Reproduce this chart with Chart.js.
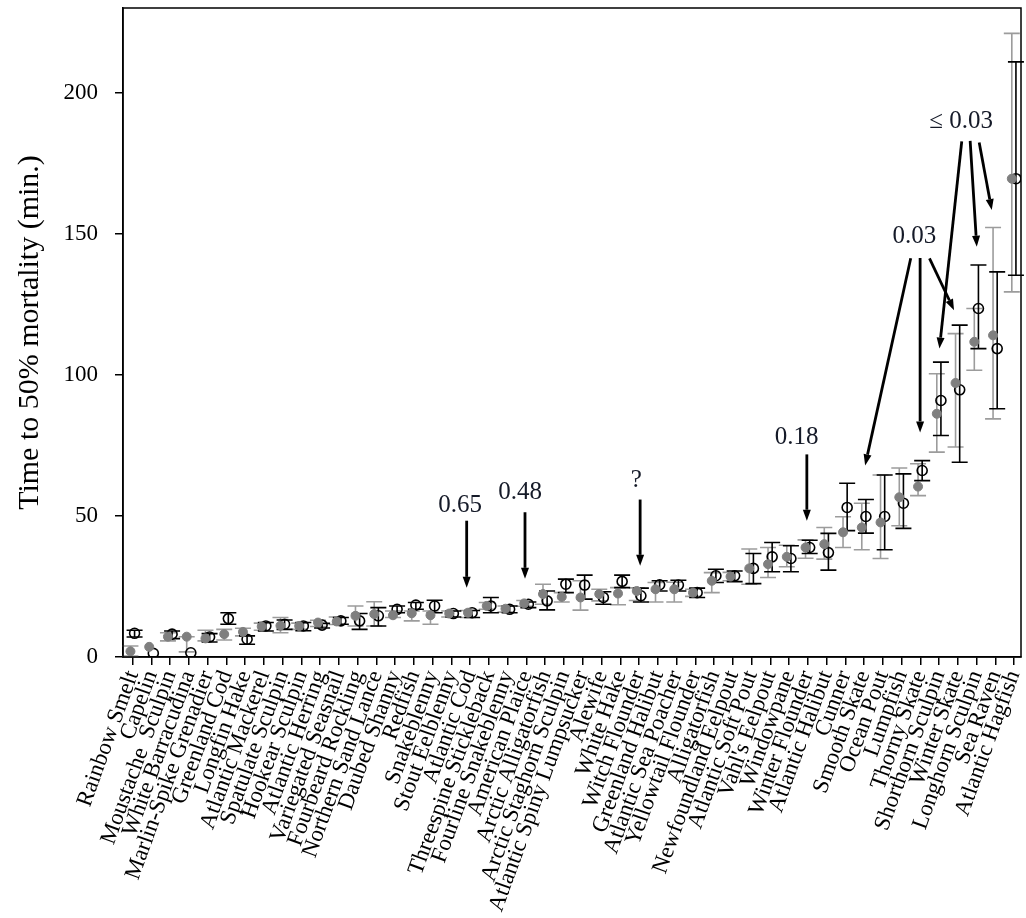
<!DOCTYPE html>
<html>
<head>
<meta charset="utf-8">
<script src="https://cdn.jsdelivr.net/npm/chart.js@4.4.1/dist/chart.umd.min.js"></script>
<style>
  html, body { margin: 0; padding: 0; background: #fff; }
  #wrap { width: 1026px; height: 918px; position: relative; }
</style>
</head>
<body>
<div id="wrap"><canvas id="chart"></canvas></div>
<script>
const species = [
  "Rainbow Smelt", "Capelin", "Moustache  Sculpin", "White Barracudina", "Marlin-Spike Grenadier",
  "Greenland Cod", "Longfin Hake", "Atlantic Mackerel", "Spatulate Sculpin", "Hookear Sculpin",
  "Atlantic Herring", "Variegated Seasnail", "Fourbeard Rockling", "Northern Sand Lance", "Daubed Shanny",
  "Redfish", "Snakeblenny", "Stout Eelblenny", "Atlantic Cod", "Threespine Stickleback",
  "Fourline Snakeblenny", "American Plaice", "Arctic Alligatorfish", "Arctic Staghorn Sculpin", "Atlantic Spiny Lumpsucker",
  "Alewife", "White Hake", "Witch Flounder", "Greenland Halibut", "Atlantic Sea Poacher",
  "Yellowtail Flounder", "Alligatorfish", "Newfoundland Eelpout", "Atlantic Soft Pout", "Vahl's Eelpout",
  "Windowpane", "Winter Flounder", "Atlantic Halibut", "Cunner", "Smooth Skate",
  "Ocean Pout", "Lumpfish", "Thorny Skate", "Shorthorn Sculpin", "Winter Skate",
  "Longhorn Sculpin", "Sea Raven", "Atlantic Hagfish"
];

// filled grey points and their grey error bars
const filledMid = [2.0, 3.6, 7.2, 7.2, 6.6, 8.1, 8.9, 10.8, 11.1, 11.0,
  12.2, 12.6, 14.6, 15.2, 14.8, 15.5, 14.8, 15.4, 15.7, 18.1,
  17.1, 19.0, 22.3, 21.3, 21.1, 22.3, 22.5, 23.4, 24.0, 24.0,
  22.8, 27.0, 28.5, 31.4, 32.9, 35.5, 38.8, 40.0, 44.2, 45.9,
  47.7, 56.6, 60.4, 86.2, 97.1, 111.7, 114.0, 169.5];
const filledLow = [0.3, null, 5.7, 1.8, 5.7, 6.0, 7.5, 9.5, 8.6, 9.8,
  10.8, 11.5, 11.0, 11.0, 14.0, 12.8, 11.6, 14.2, 14.0, 16.9,
  15.9, 18.0, 18.7, 19.5, 16.6, 19.9, 18.5, 20.0, 19.5, 19.5,
  21.5, 22.8, 27.0, 25.8, 28.2, 32.0, 35.0, 34.7, 38.8, 38.0,
  34.9, 46.5, 57.2, 72.6, 74.4, 101.6, 84.4, 129.4];
const filledHigh = [3.9, null, 8.6, 7.2, 9.5, 9.8, 10.2, 12.0, 14.0, 12.0,
  13.0, 14.2, 18.1, 19.6, 16.3, 16.3, 16.3, 16.3, 16.5, 19.3,
  18.1, 20.0, 25.8, 22.8, 27.0, 24.0, 24.6, 24.5, 26.4, 26.5,
  24.0, 29.9, 30.0, 38.3, 38.8, 39.6, 41.5, 45.9, 49.7, 54.5,
  64.5, 67.0, 68.5, 100.4, 114.6, 123.5, 152.2, 221.0];

// open circles and their black error bars
const openMid = [8.4, 1.3, 8.1, 1.5, 7.1, 13.6, 6.3, 11.0, 11.6, 11.0,
  11.3, 12.8, 12.8, 14.6, 16.9, 18.4, 18.1, 15.4, 15.7, 18.1,
  16.9, 18.7, 19.9, 25.8, 25.5, 21.1, 26.8, 21.7, 25.6, 25.5,
  22.8, 28.8, 28.8, 31.4, 35.5, 34.9, 38.8, 37.0, 53.0, 49.8,
  49.8, 54.5, 66.1, 90.9, 94.7, 123.5, 109.3, 169.5];
const openLow = [7.1, null, 6.5, null, 5.3, 11.6, 4.5, 9.2, 9.8, 9.3,
  10.3, 11.6, 9.8, 11.0, 15.7, 16.9, 15.7, 14.2, 14.0, 15.7,
  15.7, 17.5, 16.7, 22.8, 20.5, 18.7, 24.6, 19.5, 23.4, 23.4,
  21.1, 26.4, 26.7, 26.0, 30.2, 30.2, 36.7, 30.8, 44.8, 43.9,
  38.0, 45.6, 62.5, 78.5, 69.0, 109.3, 88.0, 135.3];
const openHigh = [9.5, null, 9.2, null, 8.3, 15.7, 7.5, 12.2, 13.1, 12.2,
  11.9, 14.0, 15.4, 17.5, 18.1, 19.3, 20.1, 16.3, 16.5, 21.1,
  18.1, 19.5, 23.4, 27.6, 29.0, 23.1, 29.0, 24.4, 27.0, 27.2,
  24.4, 31.1, 30.5, 36.7, 40.6, 39.4, 41.4, 43.8, 61.6, 55.8,
  64.5, 64.9, 69.6, 104.5, 117.6, 138.9, 136.5, 210.9];

const yTicks = [0, 50, 100, 150, 200];

// p-value notes, in data units (x = species position, y = minutes)
const noteText = ["0.65", "0.48", "?", "0.18", "0.03", "\u2264 0.03"];
const noteX = [18.46, 21.66, 27.85, 36.41, 42.68, 45.18];
const noteY = [53.6, 58.4, 62.5, 77.7, 149.0, 189.7];
const arrowX0 = [18.81, 21.92, 28.06, 36.95, 42.49, 42.99, 43.49, 45.21, 45.66, 46.14];
const arrowY0 = [48.3, 51.3, 55.8, 71.8, 141.3, 141.4, 141.3, 182.7, 182.9, 182.3];
const arrowX1 = [18.81, 21.92, 28.06, 36.95, 40.06, 42.99, 44.80, 44.02, 46.01, 46.81];
const arrowY1 = [24.5, 27.7, 32.3, 48.3, 67.9, 79.6, 122.9, 109.3, 145.4, 158.4];

const filledShift = -0.12;
const openShift = 0.1;

const serif = '"Liberation Serif", "Times New Roman", serif';

const errorBars = {
  id: "errorBars",
  beforeDatasetsDraw(chart) {
    const { ctx, scales: { x, y } } = chart;
    const draw = (shift, low, high, color) => {
      ctx.save();
      ctx.strokeStyle = color;
      ctx.lineWidth = 1.6;
      low.forEach((lo, i) => {
        const hi = high[i];
        if (lo == null || hi == null) return;
        const px = x.getPixelForValue(i + 1 + shift);
        const p0 = y.getPixelForValue(lo);
        const p1 = y.getPixelForValue(hi);
        ctx.beginPath();
        ctx.moveTo(px, p0); ctx.lineTo(px, p1);
        ctx.moveTo(px - 8, p0); ctx.lineTo(px + 8, p0);
        ctx.moveTo(px - 8, p1); ctx.lineTo(px + 8, p1);
        ctx.stroke();
      });
      ctx.restore();
    };
    draw(filledShift, filledLow, filledHigh, "#9c9c9c");
    draw(openShift, openLow, openHigh, "#000");
  }
};

const notes = {
  id: "notes",
  afterDatasetsDraw(chart) {
    const { ctx, scales: { x, y } } = chart;
    ctx.save();
    ctx.fillStyle = "#151a28";
    ctx.font = "25px " + serif;
    ctx.textAlign = "center";
    ctx.textBaseline = "middle";
    noteText.forEach((t, i) => {
      ctx.fillText(t, x.getPixelForValue(noteX[i]), y.getPixelForValue(noteY[i]));
    });
    ctx.strokeStyle = "#000";
    ctx.fillStyle = "#000";
    ctx.lineWidth = 2.8;
    arrowX0.forEach((_, i) => {
      const xa = x.getPixelForValue(arrowX0[i]), ya = y.getPixelForValue(arrowY0[i]);
      const xb = x.getPixelForValue(arrowX1[i]), yb = y.getPixelForValue(arrowY1[i]);
      const ang = Math.atan2(yb - ya, xb - xa);
      const len = 11, half = 4;
      const bx = xb - len * Math.cos(ang), by = yb - len * Math.sin(ang);
      ctx.beginPath();
      ctx.moveTo(xa, ya);
      ctx.lineTo(bx, by);
      ctx.stroke();
      ctx.beginPath();
      ctx.moveTo(xb, yb);
      ctx.lineTo(bx + half * Math.sin(ang), by - half * Math.cos(ang));
      ctx.lineTo(bx - half * Math.sin(ang), by + half * Math.cos(ang));
      ctx.closePath();
      ctx.fill();
    });
    ctx.restore();
  }
};

const frame = {
  id: "frame",
  afterDraw(chart) {
    const { ctx, chartArea: a } = chart;
    ctx.save();
    ctx.strokeStyle = "#000";
    ctx.lineWidth = 1.5;
    ctx.strokeRect(a.left, a.top, a.right - a.left, a.bottom - a.top);
    ctx.restore();
  }
};

// keep the plot box where the reference has it
const noPad = s => {
  s.paddingTop = 0; s.paddingBottom = 0; s.paddingLeft = 0; s.paddingRight = 0;
};

new Chart(document.getElementById("chart"), {
  type: "scatter",
  data: {
    datasets: [
      {
        label: "filled",
        data: filledMid.map((v, i) => ({ x: i + 1 + filledShift, y: v })),
        pointRadius: 4.5,
        pointBackgroundColor: "#7f7f7f",
        pointBorderColor: "#7f7f7f",
        pointBorderWidth: 1
      },
      {
        label: "open",
        data: openMid.map((v, i) => ({ x: i + 1 + openShift, y: v })),
        pointRadius: 5,
        pointBackgroundColor: "rgba(0,0,0,0)",
        pointBorderColor: "#000",
        pointBorderWidth: 1.6
      }
    ]
  },
  options: {
    responsive: true,
    maintainAspectRatio: false,
    animation: false,
    layout: { autoPadding: false, padding: { left: 12, right: 5, top: 8, bottom: 0 } },
    plugins: {
      legend: { display: false },
      tooltip: { enabled: false }
    },
    scales: {
      x: {
        type: "linear",
        min: 0.483,
        max: 48.37,
        afterBuildTicks: s => { s.ticks = species.map((_, i) => ({ value: i + 1 })); },
        afterFit: s => { s.height = 261; noPad(s); },
        grid: { drawOnChartArea: false, drawTicks: true, tickLength: 8, color: "#000", lineWidth: 1.5 },
        border: { display: true, color: "#000", width: 1.5 },
        ticks: {
          autoSkip: false,
          minRotation: 70,
          maxRotation: 70,
          padding: 2,
          color: "#000",
          font: { family: serif, size: 23 },
          callback: v => species[v - 1]
        }
      },
      y: {
        min: 0,
        max: 230,
        afterBuildTicks: s => { s.ticks = yTicks.map(v => ({ value: v })); },
        afterFit: s => { s.width = 111; noPad(s); },
        grid: { drawOnChartArea: false, drawTicks: true, tickLength: 8, color: "#000", lineWidth: 1.5 },
        border: { display: true, color: "#000", width: 1.5 },
        ticks: {
          padding: 17,
          color: "#000",
          font: { family: serif, size: 23 }
        },
        title: {
          display: true,
          text: "Time to 50% mortality (min.)",
          color: "#000",
          font: { family: serif, size: 30 },
          padding: 0
        }
      }
    }
  },
  plugins: [errorBars, notes, frame]
});
</script>
</body>
</html>
